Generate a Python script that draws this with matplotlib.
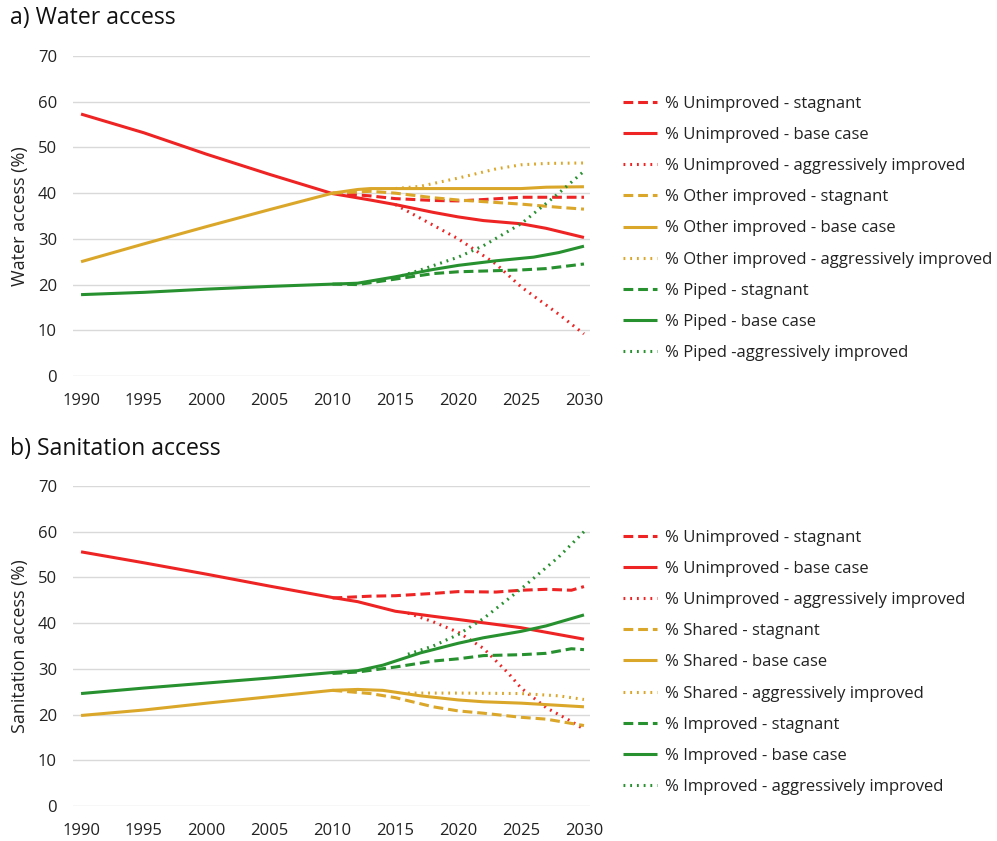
import matplotlib
matplotlib.use('Agg')
import matplotlib.pyplot as plt

plt.rcParams['font.family'] = ['Open Sans', 'DejaVu Sans']

RED = '#ee2424'
GOLD = '#dba72a'
GREEN = '#27902f'

# ---- a) Water access ----
w_unimp_base_x = [1990, 1995, 2000, 2005, 2010, 2013, 2015, 2018, 2020, 2022, 2025, 2027, 2030]
w_unimp_base_y = [57.3, 53.2, 48.5, 44.1, 39.9, 38.5, 37.5, 35.8, 34.8, 34.0, 33.3, 32.3, 30.3]
w_unimp_stag_x = [2010, 2013, 2015, 2018, 2020, 2022, 2025, 2030]
w_unimp_stag_y = [40.0, 39.4, 38.8, 38.4, 38.3, 38.6, 39.1, 39.1]
w_unimp_aggr_x = [2015, 2018, 2020, 2023, 2025, 2028, 2030]
w_unimp_aggr_y = [37.5, 33.0, 30.0, 24.5, 19.5, 13.5, 9.2]

w_other_base_x = [1990, 1995, 2000, 2005, 2010, 2012, 2013, 2015, 2020, 2025, 2027, 2030]
w_other_base_y = [25.0, 28.9, 32.7, 36.4, 40.0, 40.8, 41.0, 41.0, 41.0, 41.0, 41.3, 41.4]
w_other_stag_x = [2010, 2013, 2015, 2018, 2020, 2025, 2028, 2030]
w_other_stag_y = [40.0, 40.4, 40.0, 39.0, 38.5, 37.6, 36.9, 36.5]
w_other_aggr_x = [2015, 2017, 2020, 2023, 2025, 2027, 2030]
w_other_aggr_y = [41.0, 41.5, 43.3, 45.3, 46.2, 46.5, 46.6]

w_piped_base_x = [1990, 1995, 2000, 2005, 2010, 2012, 2015, 2018, 2020, 2023, 2026, 2028, 2030]
w_piped_base_y = [17.8, 18.3, 19.0, 19.6, 20.1, 20.3, 21.7, 23.3, 24.2, 25.2, 26.0, 27.0, 28.4]
w_piped_stag_x = [2010, 2012, 2015, 2018, 2020, 2025, 2027, 2030]
w_piped_stag_y = [20.1, 20.0, 21.2, 22.4, 22.8, 23.2, 23.5, 24.5]
w_piped_aggr_x = [2015, 2017, 2020, 2022, 2025, 2028, 2030]
w_piped_aggr_y = [21.5, 23.2, 26.0, 28.5, 33.3, 40.0, 44.8]

w_labels = ['% Unimproved - stagnant', '% Unimproved - base case', '% Unimproved - aggressively improved',
            '% Other improved - stagnant', '% Other improved - base case', '% Other improved - aggressively improved',
            '% Piped - stagnant', '% Piped - base case', '% Piped -aggressively improved']

# ---- b) Sanitation access ----
s_unimp_base_x = [1990, 1995, 2000, 2005, 2010, 2012, 2015, 2018, 2020, 2025, 2030]
s_unimp_base_y = [55.6, 53.2, 50.7, 48.1, 45.6, 44.7, 42.6, 41.5, 40.8, 39.0, 36.5]
s_unimp_stag_x = [2010, 2013, 2015, 2018, 2020, 2023, 2025, 2027, 2029, 2030]
s_unimp_stag_y = [45.5, 45.9, 46.0, 46.5, 46.9, 46.8, 47.2, 47.4, 47.2, 48.0]
s_unimp_aggr_x = [2016, 2018, 2020, 2022, 2024, 2025, 2027, 2029, 2030]
s_unimp_aggr_y = [42.2, 40.3, 38.0, 34.5, 29.0, 25.8, 21.5, 18.5, 16.8]

s_shared_base_x = [1990, 1995, 2000, 2005, 2010, 2012, 2014, 2017, 2020, 2022, 2025, 2030]
s_shared_base_y = [19.8, 21.0, 22.5, 23.9, 25.3, 25.5, 25.3, 24.1, 23.2, 22.8, 22.5, 21.7]
s_shared_stag_x = [2010, 2013, 2015, 2018, 2020, 2022, 2025, 2027, 2030]
s_shared_stag_y = [25.3, 24.6, 23.7, 21.7, 20.8, 20.3, 19.4, 19.0, 17.6]
s_shared_aggr_x = [2016, 2020, 2025, 2028, 2030]
s_shared_aggr_y = [24.7, 24.7, 24.6, 24.1, 23.3]

s_impr_base_x = [1990, 1995, 2000, 2005, 2010, 2012, 2014, 2017, 2020, 2022, 2025, 2027, 2030]
s_impr_base_y = [24.6, 25.8, 26.9, 28.0, 29.2, 29.6, 30.8, 33.5, 35.6, 36.8, 38.2, 39.4, 41.8]
s_impr_stag_x = [2010, 2012, 2015, 2018, 2020, 2022, 2025, 2027, 2029, 2030]
s_impr_stag_y = [29.0, 29.3, 30.4, 31.7, 32.2, 32.9, 33.1, 33.4, 34.4, 34.2]
s_impr_aggr_x = [2016, 2018, 2020, 2022, 2025, 2028, 2030]
s_impr_aggr_y = [33.2, 35.0, 37.5, 41.0, 47.5, 54.5, 60.0]

s_labels = ['% Unimproved - stagnant', '% Unimproved - base case', '% Unimproved - aggressively improved',
            '% Shared - stagnant', '% Shared - base case', '% Shared - aggressively improved',
            '% Improved - stagnant', '% Improved - base case', '% Improved - aggressively improved']

year_ticks = [1990, 1995, 2000, 2005, 2010, 2015, 2020, 2025, 2030]
value_ticks = [0, 10, 20, 30, 40, 50, 60, 70]

DASH = (0, (3.2, 1.6))
DOT = (0, (0.6, 1.6))

w_series = [
    (w_unimp_stag_x, w_unimp_stag_y, RED, DASH), (w_unimp_base_x, w_unimp_base_y, RED, '-'),
    (w_unimp_aggr_x, w_unimp_aggr_y, RED, DOT),
    (w_other_stag_x, w_other_stag_y, GOLD, DASH), (w_other_base_x, w_other_base_y, GOLD, '-'),
    (w_other_aggr_x, w_other_aggr_y, GOLD, DOT),
    (w_piped_stag_x, w_piped_stag_y, GREEN, DASH), (w_piped_base_x, w_piped_base_y, GREEN, '-'),
    (w_piped_aggr_x, w_piped_aggr_y, GREEN, DOT),
]
s_series = [
    (s_unimp_stag_x, s_unimp_stag_y, RED, DASH), (s_unimp_base_x, s_unimp_base_y, RED, '-'),
    (s_unimp_aggr_x, s_unimp_aggr_y, RED, DOT),
    (s_shared_stag_x, s_shared_stag_y, GOLD, DASH), (s_shared_base_x, s_shared_base_y, GOLD, '-'),
    (s_shared_aggr_x, s_shared_aggr_y, GOLD, DOT),
    (s_impr_stag_x, s_impr_stag_y, GREEN, DASH), (s_impr_base_x, s_impr_base_y, GREEN, '-'),
    (s_impr_aggr_x, s_impr_aggr_y, GREEN, DOT),
]

W, H = 997, 841
fig = plt.figure(figsize=(W / 100, H / 100), dpi=100)
ax1 = fig.add_axes([73 / W, 1 - 376 / H, 517 / W, 320 / H])
ax2 = fig.add_axes([73 / W, 1 - 806 / H, 517 / W, 320 / H])


def draw(ax, series, labels, ylabel, title, title_y, leg_y):
    for (x, y, c, ls), lab in zip(series, labels):
        ax.plot(x, y, color=c, linestyle=ls, linewidth=2.2, label=lab,
                solid_capstyle='butt', dash_capstyle='butt')
    ax.set_xlim(1989.36, 2030.48)
    ax.set_ylim(0, 70)
    ax.set_xticks(year_ticks)
    ax.set_yticks(value_ticks)
    ax.grid(axis='y', color='#d9d9d9', linewidth=1.0)
    ax.set_axisbelow(True)
    for s in ax.spines.values():
        s.set_visible(False)
    ax.tick_params(length=0, labelsize=12, colors='#222222')
    ax.tick_params(axis='x', pad=12.5)
    ax.tick_params(axis='y', pad=11.5)
    ax.set_ylabel(ylabel, fontsize=13, color='#222222')
    ax.yaxis.set_label_coords(-44 / 517, 0.5)
    fig.text(10 / W, 1 - title_y / H, title, fontsize=16.6, color='#111111',
             va='center', ha='left')
    leg = ax.legend(loc='upper left', bbox_to_anchor=(616 / W, 1 - leg_y / H),
                    bbox_transform=fig.transFigure, frameon=False, fontsize=12,
                    handlelength=2.05, handletextpad=0.48, labelspacing=0.91,
                    borderaxespad=0)
    for t in leg.get_texts():
        t.set_color('#222222')


draw(ax1, w_series, w_labels, 'Water access (%)', 'a) Water access', 18, 89)
draw(ax2, s_series, s_labels, 'Sanitation access (%)', 'b) Sanitation access', 449, 523)

fig.savefig('out.png', dpi=100)
